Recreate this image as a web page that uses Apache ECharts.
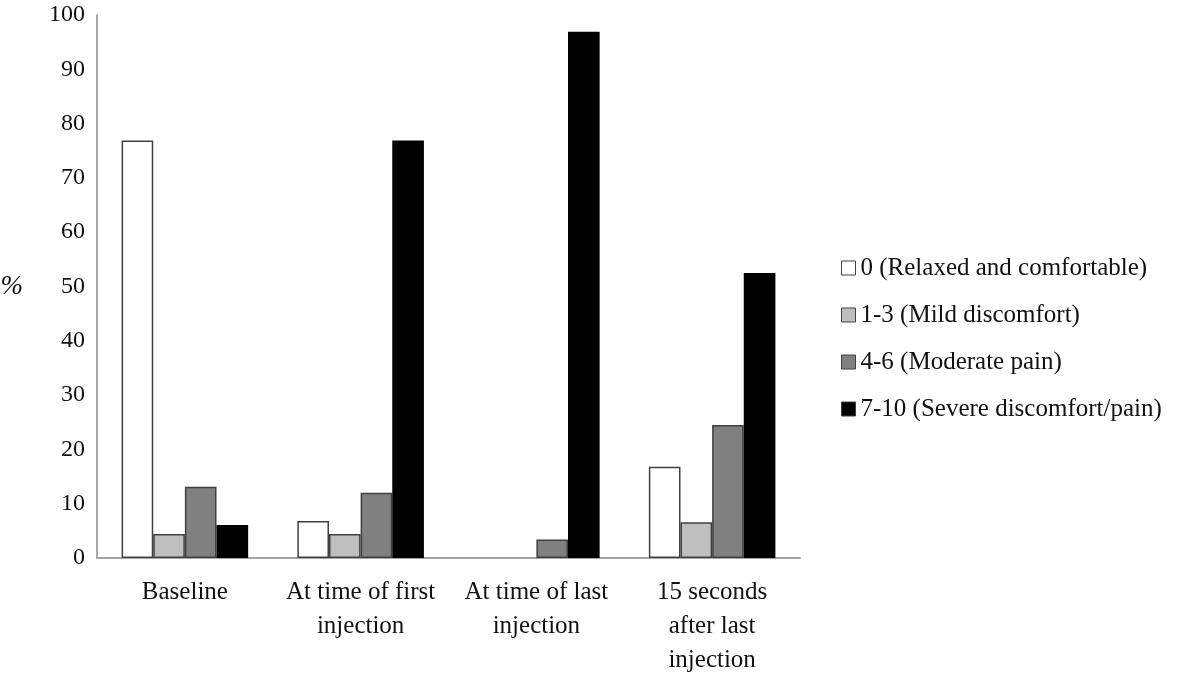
<!DOCTYPE html>
<html>
<head>
<meta charset="utf-8">
<script src="https://cdn.jsdelivr.net/npm/echarts@6/dist/echarts.min.js"></script>
<style>
  html, body { margin: 0; padding: 0; background: #fff; }
  #main { width: 1200px; height: 674px; }
</style>
</head>
<body>
<div id="main"></div>
<script>
// categories along x
const categories = [
  "Baseline",
  "At time of first\ninjection",
  "At time of last\ninjection",
  "15 seconds\nafter last\ninjection"
];

// pain score groups (percent)
const relaxed = [76.9, 6.8, 0, 16.8];
const mild = [4.4, 4.4, 0, 6.6];
const moderate = [13.1, 12.0, 3.4, 24.5];
const severe = [6.1, 76.9, 96.9, 52.5];

const seriesNames = [
  "0 (Relaxed and comfortable)",
  "1-3 (Mild discomfort)",
  "4-6 (Moderate pain)",
  "7-10 (Severe discomfort/pain)"
];
const seriesData = [relaxed, mild, moderate, severe];
const colors = ["#ffffff", "#bfbfbf", "#808080", "#000000"];

const serif = "'Liberation Serif', 'DejaVu Serif', serif";

let myChart = echarts.init(document.getElementById("main"));

let option = {
  animation: false,
  backgroundColor: "#fff",
  textStyle: { fontFamily: serif },
  grid: {
    left: 97,
    right: 400,
    top: 15,
    bottom: 116,
    containLabel: false,
    outerBoundsMode: "none"
  },
  legend: {
    orient: "vertical",
    left: 836,
    top: 249,
    itemWidth: 14,
    itemHeight: 14,
    itemGap: 19,
    icon: "rect",
    textStyle: {
      fontFamily: serif,
      fontSize: 25,
      color: "#111",
      lineHeight: 28
    },
    itemStyle: { borderColor: "#404040", borderWidth: 1 },
    data: seriesNames
  },
  xAxis: {
    type: "category",
    data: categories,
    axisLine: { lineStyle: { color: "#a6a6a6", width: 2 } },
    axisTick: { show: false },
    axisLabel: {
      interval: 0,
      margin: 17,
      fontFamily: serif,
      fontSize: 25,
      color: "#111",
      lineHeight: 34
    }
  },
  yAxis: {
    type: "value",
    min: 0,
    max: 100,
    interval: 10,
    name: "%",
    nameLocation: "middle",
    nameRotate: 0,
    nameGap: 74,
    nameTextStyle: {
      fontFamily: serif,
      fontSize: 27,
      fontStyle: "italic",
      color: "#111"
    },
    axisLine: { show: true, lineStyle: { color: "#a6a6a6", width: 2 } },
    axisTick: { show: false },
    splitLine: { show: false },
    axisLabel: {
      margin: 12,
      fontFamily: serif,
      fontSize: 24,
      color: "#111"
    }
  },
  series: seriesNames.map(function (name, i) {
    return {
      name: name,
      type: "bar",
      // zero-height bars are not drawn in the reference
      data: seriesData[i].map(function (v) {
        return v === 0 ? { value: v, itemStyle: { borderWidth: 0 } } : v;
      }),
      barGap: "0%",
      barCategoryGap: "28%",
      itemStyle: {
        color: colors[i],
        borderColor: i === 3 ? "#000" : "#404040",
        borderWidth: 1.5
      }
    };
  })
};

myChart.setOption(option);
</script>
</body>
</html>
